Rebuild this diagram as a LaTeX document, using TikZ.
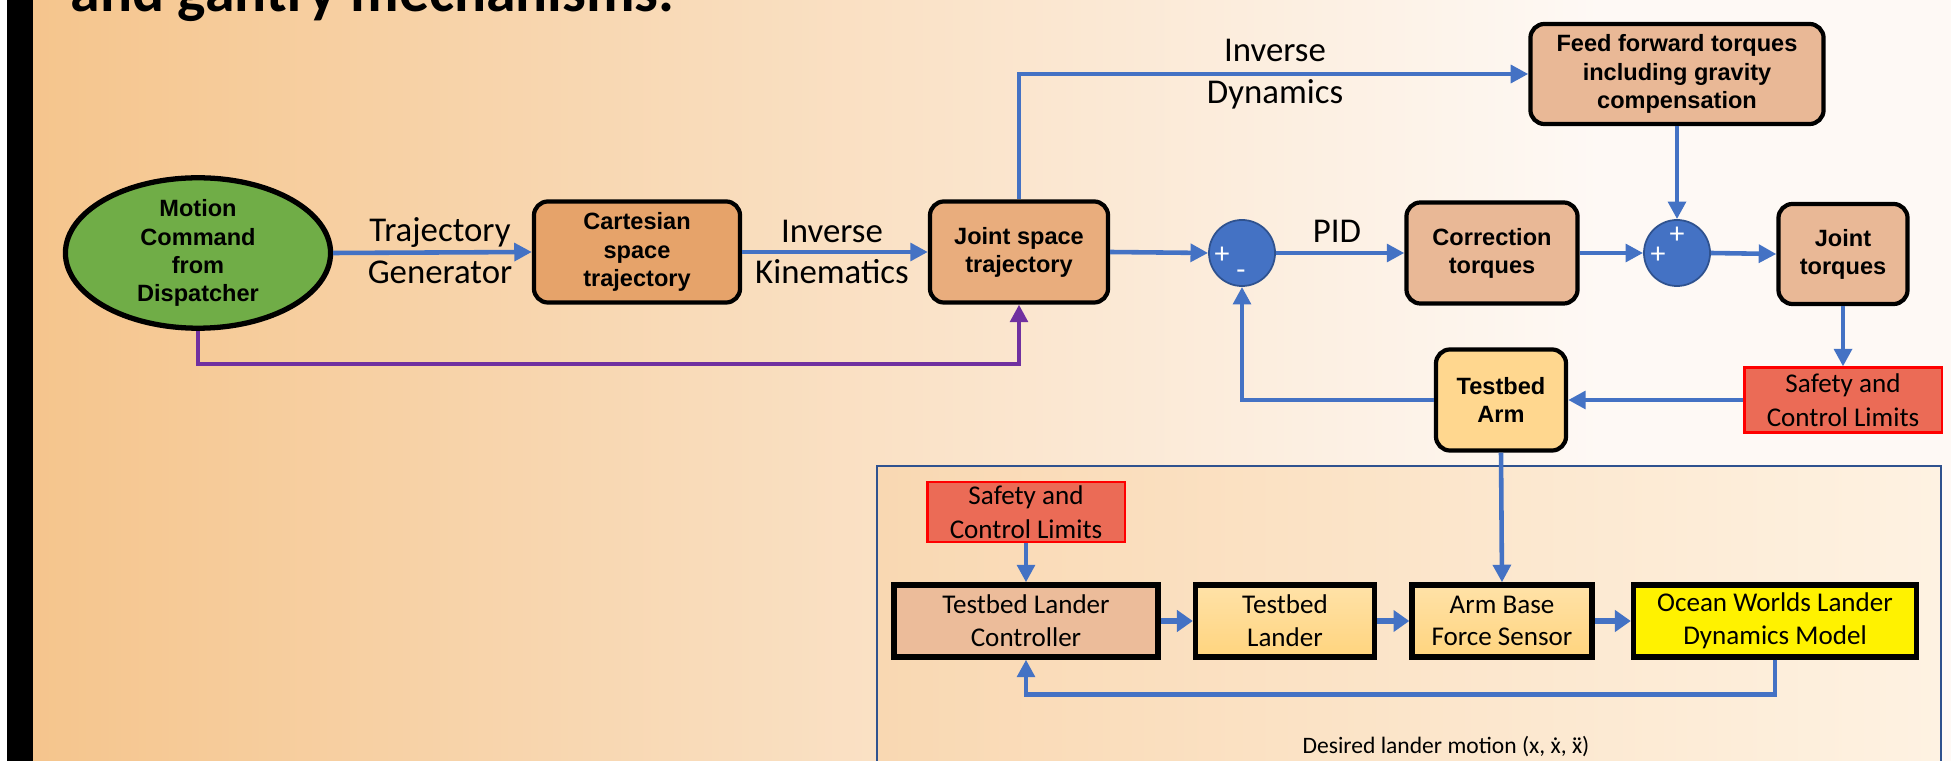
\documentclass[tikz,border=0pt]{standalone}
\usepackage{fontspec}
\setmainfont{Carlito}
\newfontfamily\arialfont{Liberation Sans}
\usetikzlibrary{arrows.meta,shapes.geometric}

\definecolor{flowblue}{HTML}{4472C4}
\definecolor{sumedge}{HTML}{2F528F}
\definecolor{cmdpurple}{HTML}{7030A0}
\definecolor{cmdgreen}{HTML}{70AD47}
\definecolor{cartfill}{HTML}{E6A36A}
\definecolor{jointfill}{HTML}{E9AD7D}
\definecolor{torqfill}{HTML}{E9B896}
\definecolor{armfill}{HTML}{FFD78F}
\definecolor{limitfill}{HTML}{EB6B56}
\definecolor{ctrlfill}{HTML}{ECBC9A}
\definecolor{landtop}{HTML}{FFE2A8}
\definecolor{landbot}{HTML}{FFD47E}
\definecolor{bgleft}{RGB}{245,197,141}
\definecolor{bgright}{RGB}{254,249,245}
\definecolor{panleft}{RGB}{249,216,178}
\definecolor{panright}{RGB}{254,242,226}

% dotted x's for the lander motion note
\newcommand{\velx}{\ooalign{x\cr\hidewidth\raisebox{0.56em}{.}\hidewidth\cr}}
\newcommand{\accx}{\ooalign{x\cr\hidewidth\raisebox{0.56em}{.\kern-0.06em.}\hidewidth\cr}}

\begin{document}
\begin{tikzpicture}[
    x=0.01cm, y=-0.01cm,
    block/.style={draw, line width=1.2pt, rounded corners=4pt, align=center, inner sep=0pt,
                  minimum height=1.01cm, font=\arialfont\bfseries\fontsize{6.7}{8}\selectfont},
    cmd/.style={ellipse, draw, line width=1.5pt, fill=cmdgreen, inner sep=0pt, align=center,
                minimum width=2.65cm, minimum height=1.48cm, font=\arialfont\bfseries\fontsize{6.7}{8}\selectfont},
    sumnode/.style={circle, fill=flowblue, draw=sumedge, line width=0.5pt, minimum size=0.66cm, inner sep=0pt},
    sign/.style={text=white, inner sep=0pt, font=\fontsize{8.5}{8.5}\selectfont},
    lbl/.style={align=center, inner sep=0pt, font=\fontsize{9.9}{11.9}\selectfont},
    limit/.style={draw=red, line width=0.6pt, fill=limitfill, align=center, inner sep=0pt,
                  minimum width=1.97cm, font=\fontsize{7.7}{9.6}\selectfont},
    plant/.style={draw, line width=1.5pt, align=center, inner sep=0pt, minimum height=0.72cm,
                  font=\fontsize{7.7}{9.3}\selectfont},
    arr/.style={-{Triangle[length=5pt,width=5pt]}, line width=1.3pt, flowblue},
    fatarr/.style={-{Triangle[length=4.5pt,width=6pt]}, line width=1.8pt, flowblue},
    cmdarr/.style={-{Triangle[length=5pt,width=5pt]}, line width=1.2pt, cmdpurple},
]

% ── Page background ──────────────────────────────────
\useasboundingbox (0,0) rectangle (1951,761);
\clip (0,0) rectangle (1951,761);
\fill[white] (0,0) rectangle (1951,761);
\shade[left color=bgleft, right color=bgright] (33,0) rectangle (1600,761);
\fill[bgright] (1599,0) rectangle (1951,761);
\fill[black] (7,0) rectangle (33,761);
\node[anchor=base west, inner sep=0pt, font=\bfseries\fontsize{17}{20}\selectfont] (heading)
    at (70,12) {and gantry mechanisms.};

% ── Row 1: trajectory chain ──────────────────────────
\node[cmd] (motion) at (198,253) {Motion\\Command\\from\\Dispatcher};
\node[block, fill=cartfill, minimum width=2.06cm] (cart)
    at (637,252) {Cartesian\\space\\trajectory};
\node[block, fill=jointfill, minimum width=1.78cm] (jst)
    at (1019,252) {Joint space\\trajectory};
\node[sumnode] (sum1) at (1242,253) {};
\node[block, fill=torqfill, minimum width=1.71cm] (corr)
    at (1492,253) {Correction\\torques};
\node[sumnode] (sum2) at (1677,253) {};
\node[block, fill=torqfill, minimum width=1.29cm, minimum height=1.0cm] (jtq)
    at (1843,254) {Joint\\torques};
\node[block, fill=torqfill, minimum width=2.93cm, minimum height=1.0cm] (ff)
    at (1677,74) {Feed forward torques\\including gravity\\compensation};

% ── Summing junction signs ───────────────────────────
\node[sign] (s1plus)  at (1222,255) {+};
\node[sign] (s1minus) at (1241,275) {-};
\node[sign] (s2top)   at (1677,235) {+};
\node[sign] (s2left)  at (1658,255) {+};

% ── Row 2: limits and arm ────────────────────────────
\node[limit, minimum height=0.65cm] (lim) at (1843,400) {Safety and\\Control Limits};
\node[block, fill=armfill, minimum width=1.30cm] (arm) at (1501,400) {Testbed\\Arm};

% ── Lander panel ─────────────────────────────────────
\shade[left color=panleft, right color=panright, draw=sumedge, line width=0.6pt]
    (877,466) rectangle (1941,800);
\node[limit, minimum height=0.6cm] (lim2) at (1026,512) {Safety and\\Control Limits};
\node[plant, fill=ctrlfill, minimum width=2.64cm] (ctrl)
    at (1026,621) {Testbed Lander\\Controller};
\node[plant, top color=landtop, bottom color=landbot, minimum width=1.79cm] (lander)
    at (1285,621) {Testbed\\Lander};
\node[plant, top color=landtop, bottom color=landbot, minimum width=1.80cm] (base)
    at (1502,621) {Arm Base\\Force Sensor};
\node[plant, fill=yellow, minimum width=2.83cm] (ocean)
    at (1775,621) {Ocean Worlds Lander\\Dynamics Model};
\node[inner sep=0pt, font=\fontsize{6.7}{8}\selectfont] (desired)
    at (1446,747) {Desired lander motion (x, \velx, \accx)};

% ── Edge labels ──────────────────────────────────────
\node[lbl] (trajgen) at (440,251)  {Trajectory\\Generator};
\node[lbl] (invkin)  at (832,252)  {Inverse\\Kinematics};
\node[lbl] (invdyn)  at (1275,74)  {Inverse\\Dynamics};
\node[lbl] (pid)     at (1337,231) {PID};

% ── Forward path ─────────────────────────────────────
\draw[arr] (motion.east) -- (cart.west);
\draw[arr] (cart.east) -- (jst.west);
\draw[arr] (jst.north) |- (ff.west);
\draw[arr] (jst.east) -- (sum1.west);
\draw[arr] (sum1.east) -- (corr.west);
\draw[arr] (corr.east) -- (sum2.west);
\draw[arr] (ff.south) -- (sum2.north);
\draw[arr] (sum2.east) -- (jtq.west);
\draw[arr] (jtq.south) -- (lim.north);
\draw[arr] (lim.west) -- (arm.east);

% ── Feedback and command ─────────────────────────────
\draw[arr] (arm.west) -| (sum1.south);
\draw[cmdarr] (motion.south) -- ++(0,33) -| (jst.south);
\draw[arr] (arm.south) -- (base.north);

% ── Lander loop ──────────────────────────────────────
\draw[arr] (lim2.south) -- (ctrl.north);
\draw[fatarr] (ctrl.east) -- (lander.west);
\draw[fatarr] (lander.east) -- (base.west);
\draw[fatarr] (base.east) -- (ocean.west);
\draw[arr] (ocean.south) -- ++(0,35) -| (ctrl.south);

\end{tikzpicture}
\end{document}
